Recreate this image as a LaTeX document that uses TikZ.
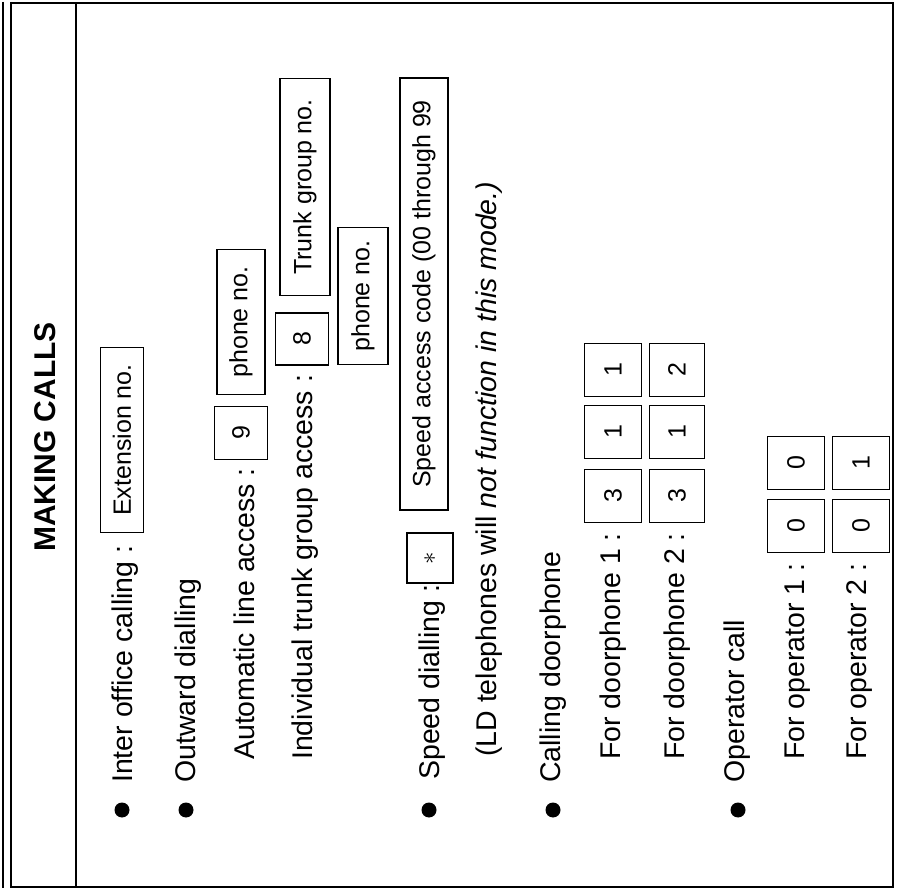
\documentclass[tikz,border=0pt]{standalone}
\usepackage{fontspec}
\setmainfont{Liberation Sans}
\begin{document}
\begin{tikzpicture}[x=1pt,y=-1pt,
  txt/.style={rotate=90,anchor=west,inner sep=0pt,font=\fontsize{28.5}{28.5}\selectfont},
  bx/.style={rotate=90,draw,line width=1.5pt,inner sep=0pt,font=\fontsize{25}{25}\selectfont},
  dot/.style={circle,fill,inner sep=0pt,minimum size=15pt}]
\useasboundingbox (0,0) rectangle (898,890);
% frame
\draw[line width=1.5pt] (3,2) -- (3,888);
\draw[line width=1.5pt] (11,2) -- (11,888);
\draw[line width=1.2pt] (11,3) -- (893,3) -- (893,887) -- (11,887);
\draw[line width=1.2pt] (76,3) -- (76,887);
\node[rotate=90,font=\bfseries\fontsize{30}{30}\selectfont] (title) at (45,437) {MAKING CALLS};
% line 1
\node[dot] (b1) at (122,810) {};
\node[txt] (t1) at (125,783) {Inter office calling :};
\node[bx,minimum width=185pt,minimum height=43pt] (ext) at (122,440) {Extension no.};
% line 2
\node[dot] (b2) at (186,810) {};
\node[txt] (t2) at (188,783) {Outward dialling};
% line 3
\node[txt] (t3) at (244,760) {Automatic line access :};
\node[bx,minimum width=53pt,minimum height=53pt] (n9) at (241,433) {9};
\node[bx,minimum width=145pt,minimum height=48pt] (ph1) at (241,322) {phone no.};
% line 4
\node[txt] (t4) at (305,760) {Individual trunk group access :};
\node[bx,minimum width=52pt,minimum height=53pt] (n8) at (302,339) {8};
\node[bx,minimum width=217pt,minimum height=50pt] (trunk) at (305,187) {Trunk group no.};
% line 5
\node[bx,minimum width=137pt,minimum height=50pt] (ph2) at (363,296) {phone no.};
% line 6
\node[dot] (b6) at (429,810) {};
\node[txt] (t6) at (432,780) {Speed dialling :};
\node[bx,minimum width=50pt,minimum height=46pt] (star) at (430,558) {$\ast$};
\node[bx,minimum width=432pt,minimum height=48pt] (speed) at (424,294) {Speed access code (00 through 99};
% line 7
\node[txt] (t7) at (489,757) {(LD telephones will \textit{not function in this mode.)}};
% line 8
\node[dot] (b8) at (553,810) {};
\node[txt] (t8) at (553,783) {Calling doorphone};
% line 9
\node[txt] (t9) at (613,760) {For doorphone 1 :};
\node[bx,minimum width=53pt,minimum height=57pt] (d13) at (613,496) {3};
\node[bx,minimum width=53pt,minimum height=57pt] (d11) at (613,432) {1};
\node[bx,minimum width=53pt,minimum height=57pt] (d12) at (613,370) {1};
% line 10
\node[txt] (t10) at (677,760) {For doorphone 2 :};
\node[bx,minimum width=53pt,minimum height=55pt] (e13) at (677,496) {3};
\node[bx,minimum width=53pt,minimum height=55pt] (e11) at (677,432) {1};
\node[bx,minimum width=53pt,minimum height=55pt] (e12) at (677,370) {2};
% line 11
\node[dot] (b11) at (738,810) {};
\node[txt] (t11) at (737,783) {Operator call};
% line 12
\node[txt] (t12) at (798,760) {For operator 1 :};
\node[bx,minimum width=53pt,minimum height=57pt] (o10) at (796,526) {0};
\node[bx,minimum width=53pt,minimum height=57pt] (o11) at (796,463) {0};
% line 13
\node[txt] (t13) at (860,760) {For operator 2 :};
\node[bx,minimum width=53pt,minimum height=57pt] (o20) at (861,526) {0};
\node[bx,minimum width=53pt,minimum height=57pt] (o21) at (861,463) {1};
\end{tikzpicture}
\end{document}
